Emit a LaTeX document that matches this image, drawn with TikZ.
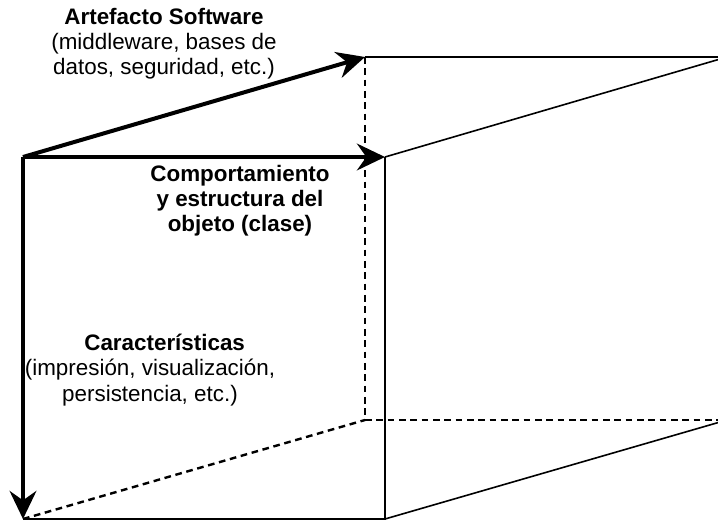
\documentclass[tikz,border=0pt]{standalone}
\usepackage{fontspec}
\setmainfont{Liberation Sans}
\usetikzlibrary{arrows.meta}
\begin{document}
\begin{tikzpicture}[x=0.75pt,y=-0.75pt,
  axisarrow/.style={line width=3pt,-{Stealth[length=21pt,width=20pt,inset=7pt]}},
  edgeline/.style={line width=1.2pt},
  hiddenline/.style={line width=1.8pt,dash pattern=on 5pt off 3.5pt},
  lbl/.style={align=center,font=\fontsize{16.8}{18.9}\selectfont,inner sep=0pt}]
\useasboundingbox (0,0) rectangle (718,520);
\clip (0,0) rectangle (718,520);
% front face
\coordinate (O) at (23,157);
\coordinate (F1) at (385,157);
\coordinate (F2) at (385,519);
\coordinate (F3) at (23,519);
% back face
\coordinate (B0) at (365,57);
\coordinate (B1) at (727,57);
\coordinate (B2) at (727,420);
\coordinate (B3) at (365,420);
% visible edges
\draw[edgeline] (F1) -- (F2) -- (F3);
\draw[edgeline] (F1) -- (B1);
\draw[edgeline] (B0) -- (B1);
\draw[edgeline] (F2) -- (B2);
% hidden edges
\draw[hiddenline] (B0) -- (B3);
\draw[hiddenline] (F3) -- (B3);
\draw[hiddenline] (B3) -- (B2);
% axes
\draw[axisarrow] (O) -- (F1);
\draw[axisarrow] (O) -- (B0);
\draw[axisarrow] (O) -- (F3);
% labels
\node[lbl] (art) at (164,44) {\textbf{Artefacto Software}\\(middleware, bases de\\datos, seguridad, etc.)};
\node[lbl] (comp) at (240,201) {\textbf{Comportamiento}\\\textbf{y estructura del}\\\textbf{objeto (clase)}};
\node[lbl] (car) at (150,370) {\hspace*{22pt}\textbf{Características}\\(impresión, visualización,\\persistencia, etc.)};
\end{tikzpicture}
\end{document}
